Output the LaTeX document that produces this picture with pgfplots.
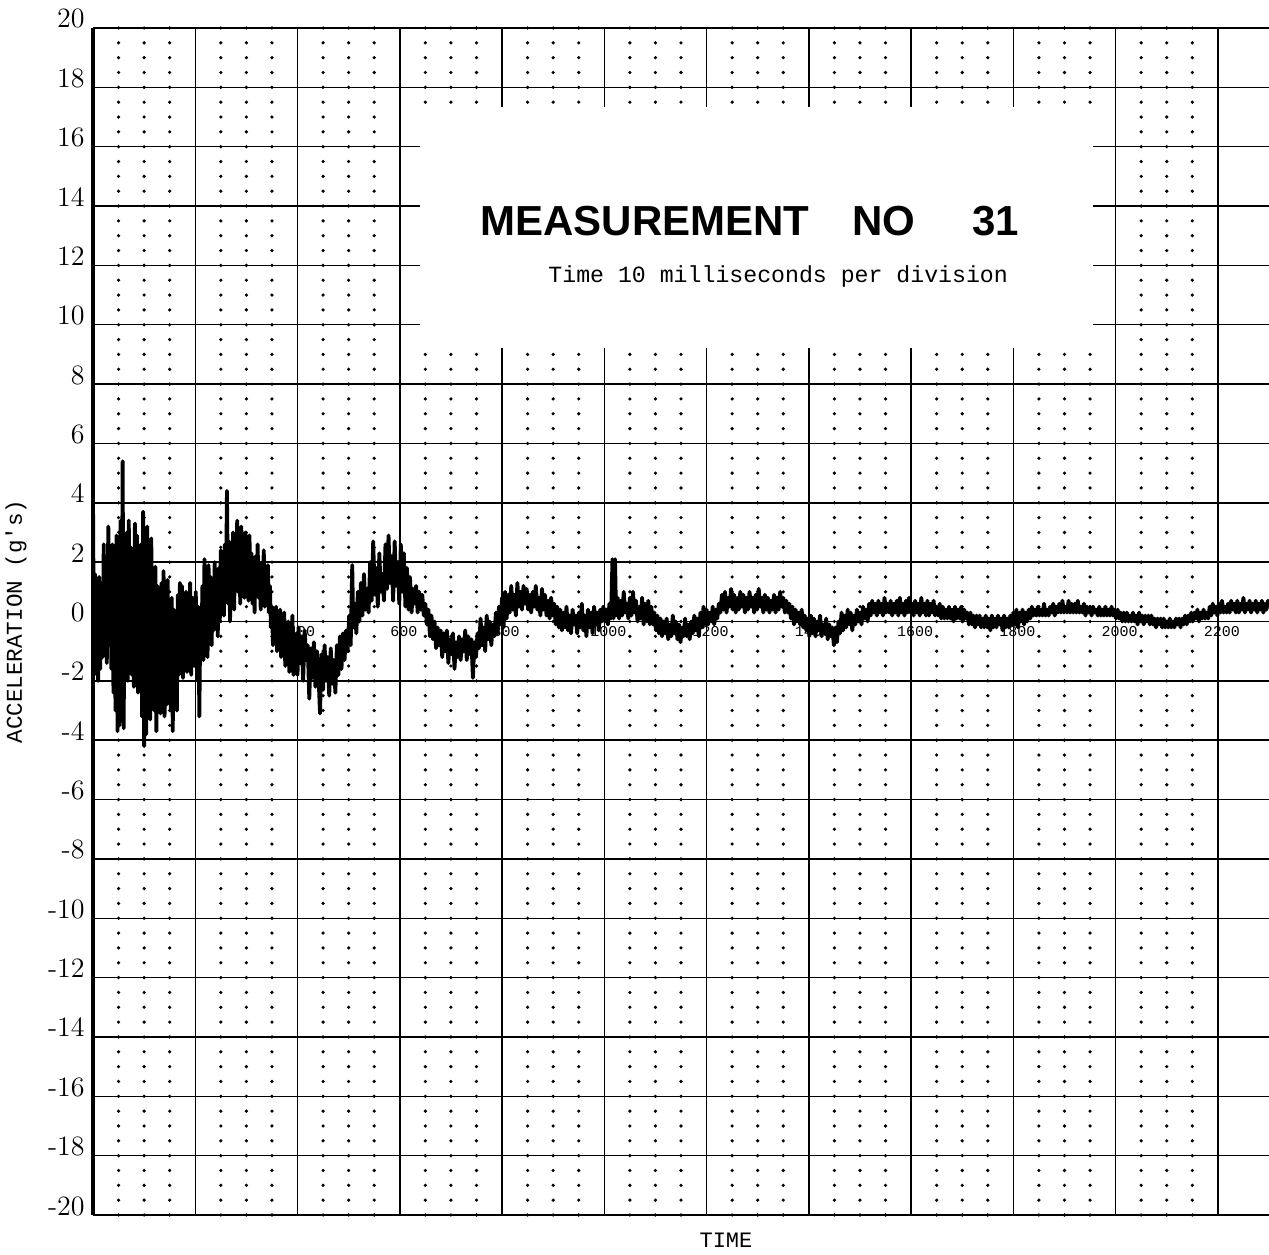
\documentclass[border=0pt]{standalone}
\usepackage{fontspec}
\usepackage{pgfplots}
\pgfplotsset{compat=1.18}
\newfontfamily\mono{Liberation Mono}
\newfontfamily\titlefont{Liberation Sans}
\begin{document}
\begin{tikzpicture}
\begin{axis}[
 scale only axis, width=588pt, height=593.5pt,
 xmin=0, xmax=2300, ymin=-20, ymax=20,
 axis x line*=bottom, axis y line*=left,
 x axis line style={-, line width=0.9pt},
 y axis line style={-, line width=1.6pt},
 xtick={0,200,...,2200}, minor x tick num=3,
 ytick={-20,-18,...,20},
 yticklabels={-20,-18,-16,-14,-12,-10,-8,-6,-4,-2,0,2,4,6,8,10,12,14,16,18,20},
 xticklabels={},
 major tick length=0pt, minor tick length=0pt,
 xmajorgrids, ymajorgrids, xminorgrids,
 major grid style={black, line width=0.75pt},
 minor grid style={black, line width=1.8pt, line cap=round, dash pattern=on 0pt off 7.41875pt},
 yticklabel style={anchor=base east, inner sep=0pt, font=\fontsize{14}{16}\selectfont},
 yticklabel shift=4pt,
 clip mode=individual,
]
\coordinate (O) at (rel axis cs:0,0);
\addplot[black, line width=1.9pt, line join=round] table {
0 4.2
2 -1.8
4 1.6
6 -1.5
8 1.2
10 -2.0
12 1.5
14 -1.6
17 0.8
19 -1.2
21 2.6
23 -0.5
25 2.0
27 -1.4
30 3.2
32 -0.8
34 1.8
36 -1.6
38 2.6
40 -2.4
42 1.5
44 -3.0
46 2.9
48 -3.7
50 1.0
52 -3.5
54 3.4
56 -2.0
58 5.4
60 -3.6
62 2.2
64 -1.5
66 3.0
68 -2.0
70 3.4
72 -1.2
74 2.5
76 -1.8
78 1.9
80 -2.2
82 3.3
84 -1.0
86 2.9
88 -2.4
90 1.5
92 -1.9
94 2.6
96 -3.2
98 3.7
100 -4.2
102 2.5
104 -3.8
106 3.2
108 -2.6
110 1.9
112 -3.3
114 2.8
116 -2.2
118 1.5
120 -3.0
122 1.85
124 -3.7
126 1.2
128 -2.5
130 0.9
132 -3.1
134 1.3
136 -2.6
138 1.7
140 -3.2
142 1.0
144 -2.8
146 1.4
148 -2.0
150 0.6
152 -3.0
154 0.8
156 -3.7
158 0.4
160 -2.4
162 0.2
164 -3.0
166 0.9
168 -1.8
170 1.3
172 -1.6
174 1.2
176 -1.9
178 0.5
180 -1.4
182 1.0
184 -1.7
186 0.6
188 -1.2
190 1.3
192 -1.8
195 0.8
198 -1.5
201 1.0
204 -2.0
206 0.5
208 -3.2
210 0.3
212 -1.0
214 1.2
216 -1.3
218 2.1
220 -0.6
222 1.6
224 -1.2
226 1.9
228 -0.4
230 1.5
232 -0.8
234 1.1
236 -0.3
238 2.0
240 0.2
242 1.4
244 -0.5
246 1.8
248 0.0
250 2.4
252 0.5
254 1.8
256 0.2
258 2.6
260 0.8
262 4.4
264 0.6
266 2.7
268 0.0
270 2.2
272 0.8
274 3.0
276 0.4
278 2.5
280 1.2
282 3.4
284 1.0
286 2.8
288 0.6
290 3.2
292 1.4
294 2.6
296 0.8
298 3.0
300 1.6
302 2.4
304 0.7
306 2.9
308 1.2
310 2.3
312 0.6
314 1.8
316 0.3
318 2.2
320 1.0
322 2.6
324 0.8
326 2.0
328 0.4
330 1.8
332 1.0
334 2.4
336 0.5
338 1.6
340 0.6
342 1.9
344 0.3
346 1.2
348 -0.2
350 0.5
352 -0.8
354 0.3
356 -0.5
358 0.5
360 -1.0
362 0.2
364 -0.6
366 0.4
368 -1.2
370 -0.2
372 -0.9
374 0.3
376 -1.5
378 -0.3
380 -1.0
382 0.0
384 -1.7
386 -0.3
388 -1.2
390 0.2
392 -1.8
394 -0.6
396 -1.4
398 -0.4
400 -1.8
402 -0.2
405 -1.4
408 -0.5
411 -2.0
414 -0.3
417 -1.3
420 -0.8
423 -2.6
426 -0.9
429 -1.9
432 -0.7
435 -2.2
438 -1.0
441 -1.8
444 -3.1
447 -1.1
450 -2.3
453 -0.8
456 -2.0
459 -1.2
462 -2.5
465 -0.9
468 -2.1
471 -1.3
474 -2.4
477 -0.8
480 -1.8
483 -0.5
486 -1.6
489 -0.4
492 -1.3
495 -0.3
498 -1.0
501 0.2
504 -0.8
507 1.9
509 -0.2
512 0.6
515 -0.4
518 1.0
521 0.0
524 1.3
527 0.2
530 1.6
533 0.4
536 1.1
539 0.3
542 2.0
545 0.7
548 2.7
551 0.9
554 1.8
557 0.5
560 2.3
563 1.0
566 1.6
569 0.7
572 2.6
575 1.1
578 2.9
581 1.3
584 2.2
587 0.7
590 2.7
593 1.2
596 2.0
599 0.6
602 2.6
605 1.0
608 2.3
611 0.5
614 1.8
617 0.4
620 1.5
623 0.3
626 1.1
629 0.6
632 1.2
635 0.3
638 1.0
641 0.4
644 0.9
647 0.2
650 0.6
653 -0.1
656 0.4
659 -0.5
662 0.2
665 -0.6
668 0.0
671 -0.9
674 -0.2
677 -0.8
680 -0.3
683 -1.2
686 -0.4
689 -1.0
692 -0.3
695 -1.4
698 -0.6
701 -1.1
704 -0.4
707 -1.6
710 -0.7
713 -1.2
716 -0.5
719 -1.3
722 -0.6
725 -1.0
728 -0.3
731 -1.3
734 -0.5
737 -1.1
740 -0.6
743 -1.9
746 -0.7
749 -1.2
752 -0.4
755 -0.9
758 0.1
761 -0.8
764 -0.2
767 -1.0
770 0.2
773 -0.6
776 0.0
779 -0.8
782 -0.1
785 -0.5
788 0.3
791 -0.4
794 0.5
797 -0.1
800 0.8
803 -0.2
806 1.0
809 0.1
812 0.9
815 0.3
818 1.2
821 0.4
824 0.9
827 0.2
830 1.3
833 0.5
836 1.0
839 0.4
842 1.2
845 0.6
848 1.1
851 0.4
854 0.9
857 0.3
860 1.0
863 0.5
866 1.2
869 0.4
872 0.8
875 0.2
878 1.1
881 0.4
884 0.9
887 0.2
890 0.7
893 0.1
896 0.8
899 0.2
902 0.6
905 -0.1
908 0.5
911 -0.2
914 0.4
917 -0.3
920 0.3
923 -0.2
926 0.5
929 -0.3
932 0.2
935 -0.4
938 0.4
941 -0.1
944 0.2
947 -0.4
950 0.3
953 -0.2
956 0.6
959 -0.3
962 0.2
965 -0.5
968 0.4
971 -0.2
974 0.3
977 -0.4
980 0.5
983 -0.1
986 0.3
989 -0.3
992 0.4
995 0.0
998 0.5
1001 0.0
1004 0.4
1007 -0.1
1010 0.6
1013 0.1
1016 2.1
1018 0.1
1021 2.1
1023 0.2
1026 0.8
1029 0.1
1032 0.7
1035 0.2
1038 1.0
1041 0.3
1044 0.6
1047 0.1
1050 0.8
1053 0.2
1056 1.0
1059 0.3
1062 0.7
1065 0.0
1068 0.5
1071 0.1
1074 0.8
1077 -0.1
1080 0.6
1083 0.0
1086 0.7
1089 -0.1
1092 0.5
1095 -0.1
1098 0.3
1101 -0.3
1104 0.2
1107 -0.4
1110 0.1
1113 -0.5
1116 0.0
1119 -0.4
1122 0.1
1125 -0.6
1128 -0.1
1131 -0.5
1134 0.2
1137 -0.4
1140 0.0
1143 -0.6
1146 -0.1
1149 -0.7
1152 -0.2
1155 -0.5
1158 0.1
1161 -0.5
1164 -0.1
1167 -0.6
1170 0.0
1173 -0.4
1176 0.2
1179 -0.3
1182 0.1
1185 -0.5
1188 0.3
1191 -0.2
1194 0.5
1197 -0.1
1200 0.4
1203 -0.1
1206 0.3
1209 0.0
1212 0.5
1215 -0.1
1218 0.4
1221 0.1
1224 0.6
1227 0.3
1230 0.9
1233 0.4
1236 1.0
1239 0.3
1242 0.8
1245 0.5
1248 1.1
1251 0.4
1254 0.9
1257 0.3
1260 0.8
1263 0.4
1266 1.0
1269 0.5
1272 0.9
1275 0.3
1278 0.8
1281 0.4
1284 1.0
1287 0.5
1290 0.8
1293 0.3
1296 0.9
1299 0.4
1302 1.1
1305 0.5
1308 0.8
1311 0.3
1314 0.9
1317 0.4
1320 0.8
1323 0.3
1326 0.7
1329 0.4
1332 0.9
1335 0.3
1338 0.8
1341 0.4
1344 1.0
1347 0.5
1350 0.8
1353 0.3
1356 0.7
1359 0.3
1362 0.6
1365 0.1
1368 0.5
1371 -0.1
1374 0.4
1377 0.0
1380 0.3
1383 -0.1
1386 0.4
1389 -0.2
1392 0.2
1395 -0.3
1398 0.1
1401 -0.5
1404 0.2
1407 -0.4
1410 0.1
1413 -0.5
1416 0.0
1419 -0.3
1422 0.2
1425 -0.5
1428 -0.1
1431 -0.4
1434 0.1
1437 -0.6
1440 -0.1
1443 -0.5
1446 -0.2
1449 -0.8
1452 -0.2
1455 -0.7
1458 0.0
1461 -0.4
1464 0.3
1467 -0.3
1470 0.2
1473 -0.2
1476 0.4
1479 -0.1
1482 0.3
1485 -0.3
1488 0.2
1491 -0.1
1494 0.4
1497 0.0
1500 0.3
1503 -0.1
1506 0.5
1509 0.1
1512 0.4
1515 0.0
1518 0.6
1521 0.2
1524 0.7
1527 0.3
1530 0.6
1533 0.2
1536 0.7
1539 0.3
1542 0.6
1545 0.2
1548 0.8
1551 0.3
1554 0.6
1557 0.3
1560 0.7
1563 0.2
1566 0.6
1569 0.3
1572 0.7
1575 0.2
1578 0.8
1581 0.3
1584 0.6
1587 0.2
1590 0.7
1593 0.3
1596 0.8
1599 0.3
1602 0.6
1605 0.2
1608 0.7
1611 0.3
1614 0.6
1617 0.2
1620 0.8
1623 0.3
1626 0.6
1629 0.2
1632 0.7
1635 0.2
1638 0.6
1641 0.3
1644 0.7
1647 0.2
1650 0.5
1653 0.2
1656 0.6
1659 0.1
1662 0.5
1665 0.1
1668 0.4
1671 0.1
1674 0.5
1677 0.1
1680 0.4
1683 0.0
1686 0.5
1689 0.1
1692 0.4
1695 0.1
1698 0.5
1701 0.0
1704 0.4
1707 0.1
1710 0.3
1713 -0.1
1716 0.3
1719 -0.1
1722 0.2
1725 -0.2
1728 0.2
1731 -0.1
1734 0.2
1737 -0.2
1740 0.1
1743 -0.2
1746 0.2
1749 -0.2
1752 0.1
1755 -0.3
1758 0.2
1761 -0.2
1764 0.1
1767 -0.2
1770 0.2
1773 -0.1
1776 0.1
1779 -0.3
1782 0.2
1785 -0.2
1788 0.1
1791 -0.2
1794 0.2
1797 -0.1
1800 0.3
1803 -0.1
1806 0.4
1809 -0.2
1812 0.3
1815 0.0
1818 0.4
1821 -0.1
1824 0.3
1827 0.0
1830 0.4
1833 0.1
1836 0.5
1839 0.2
1842 0.4
1845 0.2
1848 0.5
1851 0.2
1854 0.4
1857 0.2
1860 0.6
1863 0.2
1866 0.4
1869 0.2
1872 0.5
1875 0.3
1878 0.6
1881 0.2
1884 0.5
1887 0.3
1890 0.6
1893 0.3
1896 0.7
1899 0.3
1902 0.5
1905 0.3
1908 0.7
1911 0.3
1914 0.6
1917 0.3
1920 0.6
1923 0.3
1926 0.7
1929 0.3
1932 0.5
1935 0.3
1938 0.6
1941 0.2
1944 0.5
1947 0.3
1950 0.5
1953 0.2
1956 0.5
1959 0.3
1962 0.4
1965 0.2
1968 0.5
1971 0.2
1974 0.4
1977 0.2
1980 0.5
1983 0.2
1986 0.4
1989 0.2
1992 0.5
1995 0.2
1998 0.4
2001 0.1
2004 0.4
2007 0.1
2010 0.3
2013 0.0
2016 0.3
2019 0.0
2022 0.3
2025 0.0
2028 0.2
2031 0.0
2034 0.3
2037 0.0
2040 0.2
2043 -0.1
2046 0.3
2049 0.0
2052 0.2
2055 -0.1
2058 0.2
2061 0.0
2064 0.2
2067 -0.1
2070 0.2
2073 -0.1
2076 0.1
2079 -0.2
2082 0.1
2085 -0.1
2088 0.1
2091 -0.2
2094 0.1
2097 -0.2
2100 0.0
2103 -0.2
2106 0.1
2109 -0.2
2112 0.0
2115 -0.2
2118 0.1
2121 -0.1
2124 0.1
2127 -0.2
2130 0.1
2133 -0.1
2136 0.2
2139 -0.1
2142 0.2
2145 0.0
2148 0.3
2151 0.0
2154 0.3
2157 0.1
2160 0.4
2163 0.0
2166 0.3
2169 0.1
2172 0.4
2175 0.1
2178 0.3
2181 0.1
2184 0.5
2187 0.2
2190 0.6
2193 0.3
2196 0.5
2199 0.2
2202 0.6
2205 0.3
2208 0.7
2211 0.3
2214 0.5
2217 0.3
2220 0.6
2223 0.3
2226 0.7
2229 0.4
2232 0.6
2235 0.3
2238 0.7
2241 0.3
2244 0.6
2247 0.4
2250 0.8
2253 0.3
2256 0.6
2259 0.4
2262 0.7
2265 0.3
2268 0.6
2271 0.4
2274 0.7
2277 0.3
2280 0.6
2283 0.4
2286 0.7
2289 0.3
2292 0.6
2295 0.4
2298 0.7
2300 0.5
};
\fill[white] (axis cs:640,9.2) rectangle (axis cs:1955,17.35);
\node[anchor=base west, inner sep=0pt, font=\titlefont\bfseries\fontsize{21}{24}\selectfont] at (axis cs:757,13.02) {MEASUREMENT};
\node[anchor=base west, inner sep=0pt, font=\titlefont\bfseries\fontsize{21}{24}\selectfont] at (axis cs:1484,13.02) {NO};
\node[anchor=base west, inner sep=0pt, font=\titlefont\bfseries\fontsize{21}{24}\selectfont] at (axis cs:1719,13.02) {31};
\node[anchor=base west, inner sep=0pt, font=\mono\fontsize{11.6}{14}\selectfont] at (axis cs:890,11.41) {Time 10 milliseconds per division};
\node[anchor=north, inner sep=0pt, font=\mono\fontsize{7.5}{8}\selectfont] at ([xshift=2pt,yshift=-2.5pt]axis cs:400,0) {400};
\node[anchor=north, inner sep=0pt, font=\mono\fontsize{7.5}{8}\selectfont] at ([xshift=2pt,yshift=-2.5pt]axis cs:600,0) {600};
\node[anchor=north, inner sep=0pt, font=\mono\fontsize{7.5}{8}\selectfont] at ([xshift=2pt,yshift=-2.5pt]axis cs:800,0) {800};
\node[anchor=north, inner sep=0pt, font=\mono\fontsize{7.5}{8}\selectfont] at ([xshift=2pt,yshift=-2.5pt]axis cs:1000,0) {1000};
\node[anchor=north, inner sep=0pt, font=\mono\fontsize{7.5}{8}\selectfont] at ([xshift=2pt,yshift=-2.5pt]axis cs:1200,0) {1200};
\node[anchor=north, inner sep=0pt, font=\mono\fontsize{7.5}{8}\selectfont] at ([xshift=2pt,yshift=-2.5pt]axis cs:1400,0) {1400};
\node[anchor=north, inner sep=0pt, font=\mono\fontsize{7.5}{8}\selectfont] at ([xshift=2pt,yshift=-2.5pt]axis cs:1600,0) {1600};
\node[anchor=north, inner sep=0pt, font=\mono\fontsize{7.5}{8}\selectfont] at ([xshift=2pt,yshift=-2.5pt]axis cs:1800,0) {1800};
\node[anchor=north, inner sep=0pt, font=\mono\fontsize{7.5}{8}\selectfont] at ([xshift=2pt,yshift=-2.5pt]axis cs:2000,0) {2000};
\node[anchor=north, inner sep=0pt, font=\mono\fontsize{7.5}{8}\selectfont] at ([xshift=2pt,yshift=-2.5pt]axis cs:2200,0) {2200};
\node[rotate=90, inner sep=0pt, font=\mono\fontsize{11.3}{13}\selectfont] at ([xshift=-38.5pt]axis cs:0,0) {ACCELERATION (g's)};
\node[inner sep=0pt, font=\mono\fontsize{11}{13}\selectfont] at ([yshift=-12.5pt]axis cs:1238,-20) {TIME};
\end{axis}
\pgfresetboundingbox
\path[use as bounding box] ([shift={(-46.5pt,-19.5pt)}]O) rectangle ([shift={(588pt,607.5pt)}]O);
\end{tikzpicture}
\end{document}
